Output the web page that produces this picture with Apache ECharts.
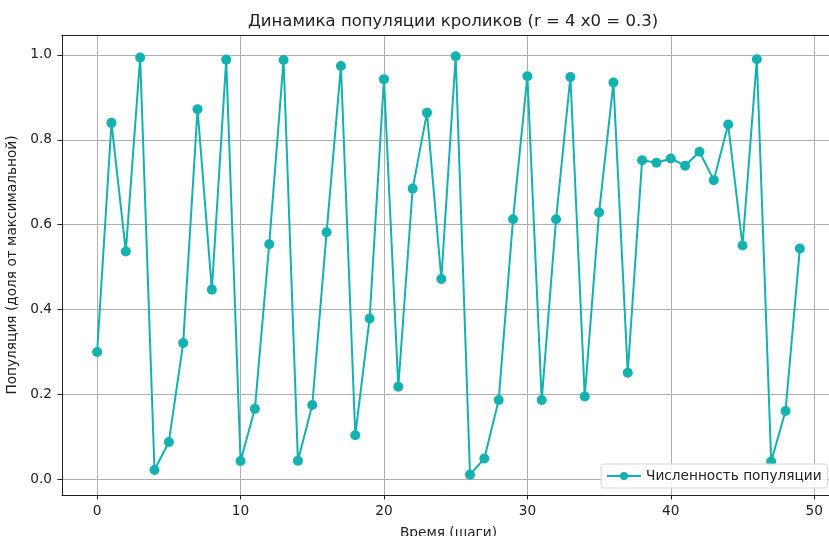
<!DOCTYPE html>
<html>
<head>
<meta charset="utf-8">
<script src="https://cdn.jsdelivr.net/npm/echarts@6/dist/echarts.min.js"></script>
<style>
html,body{margin:0;padding:0;background:#fff;}
#chart{width:829px;height:536px;}
</style>
</head>
<body>
<div id="chart"></div>
<script>
const steps = [0,1,2,3,4,5,6,7,8,9,10,11,12,13,14,15,16,17,18,19,20,21,22,23,24,25,26,27,28,29,30,31,32,33,34,35,36,37,38,39,40,41,42,43,44,45,46,47,48,49];
const population = [0.300,0.840,0.537,0.994,0.022,0.088,0.321,0.872,0.447,0.989,
  0.043,0.166,0.554,0.988,0.044,0.175,0.582,0.974,0.104,0.379,
  0.943,0.218,0.685,0.864,0.472,0.997,0.011,0.049,0.187,0.613,
  0.950,0.187,0.613,0.948,0.195,0.629,0.935,0.251,0.752,0.746,
  0.756,0.739,0.772,0.705,0.836,0.551,0.990,0.042,0.161,0.544];
const xTicks = [0,10,20,30,40,50];
const yTicks = [0.0,0.2,0.4,0.6,0.8,1.0];
const titleText = 'Динамика популяции кроликов (r = 4 x0 = 0.3)';
const seriesName = 'Численность популяции';

const chart = echarts.init(document.getElementById('chart'));
const font = 'DejaVu Sans';
chart.setOption({
  animation: false,
  backgroundColor: '#fff',
  title: {
    text: titleText, left: 448, top: 8, textAlign: 'center',
    textStyle: {fontFamily: font, fontSize: 16.5, fontWeight: 'normal', color: '#222'}
  },
  grid: {left: 62, top: 35, width: 773, height: 460, containLabel: false, outerBoundsMode: 'none', show: false},
  legend: {
    data: [seriesName], left: 601, top: 464, orient: 'horizontal',
    itemWidth: 34, itemHeight: 10, itemGap: 10,
    padding: [5, 6, 5, 5],
    borderColor: '#d6d6d6', borderWidth: 1, borderRadius: 3,
    backgroundColor: 'rgba(255,255,255,0.85)',
    textStyle: {fontFamily: font, fontSize: 13.7, color: '#222'}
  },
  xAxis: [{
    type: 'value', min: -2.45, max: 51.45,
    name: 'Время (шаги)', nameLocation: 'middle', nameGap: 31,
    nameTextStyle: {fontFamily: font, fontSize: 13.7, color: '#222'},
    axisLine: {show: true, onZero: false, lineStyle: {color: '#222', width: 1}},
    axisTick: {show: true, length: 4.5, lineStyle: {color: '#222'}, customValues: xTicks},
    axisLabel: {fontFamily: font, fontSize: 13.7, color: '#222', margin: 9, customValues: xTicks},
    splitLine: {show: true, lineStyle: {color: '#b0b0b0', width: 1}}
  }, {
    type: 'value', position: 'top', min: -2.45, max: 51.45,
    axisLine: {show: true, onZero: false, lineStyle: {color: '#222', width: 1}},
    axisTick: {show: false}, axisLabel: {show: false}, splitLine: {show: false}
  }],
  yAxis: {
    type: 'value', min: -0.037, max: 1.047,
    name: 'Популяция (доля от максимальной)', nameLocation: 'middle', nameGap: 38,
    nameTextStyle: {fontFamily: font, fontSize: 13.7, color: '#222'},
    axisLine: {show: true, onZero: false, lineStyle: {color: '#222', width: 1}},
    axisTick: {show: true, length: 4.5, lineStyle: {color: '#222'}, customValues: yTicks},
    axisLabel: {fontFamily: font, fontSize: 13.7, color: '#222', margin: 10, customValues: yTicks,
      formatter: v => v.toFixed(1)},
    splitLine: {show: true, lineStyle: {color: '#b0b0b0', width: 1}}
  },
  series: [{
    name: seriesName, type: 'line', xAxisIndex: 0,
    data: steps.map((s, i) => [s, population[i]]),
    symbol: 'circle', symbolSize: 10, showAllSymbol: true,
    lineStyle: {color: '#14b1b1', width: 2},
    itemStyle: {color: '#14b1b1'},
    clip: false
  }]
});
</script>
</body>
</html>
